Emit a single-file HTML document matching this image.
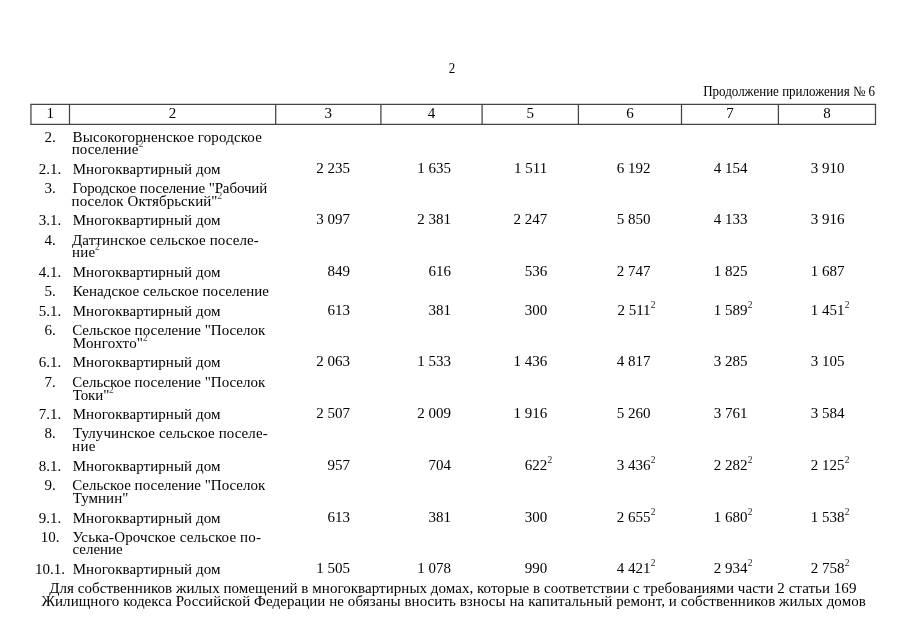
<!DOCTYPE html>
<html lang="ru"><head><meta charset="utf-8"><title>Приложение № 6</title>
<style>
html,body{margin:0;padding:0;background:#fff;}
body{width:905px;height:640px;position:relative;overflow:hidden;font-family:"Liberation Serif",serif;color:#000;}
#w{position:absolute;left:0;top:0;width:905px;height:640px;will-change:transform;font-size:15px;overflow:hidden;}
.g{position:absolute;left:0;top:0;}
.t{position:absolute;white-space:nowrap;line-height:20px;height:20px;}
.s{font-size:9.5px;color:#444;}
.n{font-size:9.5px;color:#222;}
</style></head><body><div id="w">
<svg class="g" width="905" height="640" viewBox="0 0 905 640"><g stroke="#444" stroke-width="1.25" fill="none">
<path d="M30.32 104.3H876.12M30.32 124.3H876.12"/>
<path d="M30.95 104.3V124.3M69.50 104.3V124.3M275.70 104.3V124.3M380.90 104.3V124.3M482.10 104.3V124.3M578.40 104.3V124.3M681.50 104.3V124.3M778.40 104.3V124.3M875.50 104.3V124.3"/>
</g></svg>
<div class="t" style="top:58px;font-size:14.3px;left:432.30px;width:40px;text-align:center;transform:scaleX(0.9091);transform-origin:50% 50%;">2</div>
<div class="t" style="top:81px;font-size:14.3px;right:29.70px;transform:scaleX(0.9091);transform-origin:100% 50%;">Продолжение приложения № 6</div>
<div class="t" style="top:103px;left:30.23px;width:40px;text-align:center;">1</div>
<div class="t" style="top:103px;left:152.60px;width:40px;text-align:center;">2</div>
<div class="t" style="top:103px;left:308.30px;width:40px;text-align:center;">3</div>
<div class="t" style="top:103px;left:411.50px;width:40px;text-align:center;">4</div>
<div class="t" style="top:103px;left:510.25px;width:40px;text-align:center;">5</div>
<div class="t" style="top:103px;left:609.95px;width:40px;text-align:center;">6</div>
<div class="t" style="top:103px;left:709.95px;width:40px;text-align:center;">7</div>
<div class="t" style="top:103px;left:806.95px;width:40px;text-align:center;">8</div>
<div class="t" style="top:127px;left:20.00px;width:60px;text-align:center;">2.</div>
<div class="t" style="top:127px;left:72.60px;letter-spacing:0.128px;">Высокогорненское городское</div>
<div class="t" style="top:139px;left:71.70px;letter-spacing:0.05px;">поселение</div>
<div class="t s" style="left:138.70px;top:134px;">2</div>
<div class="t" style="top:159px;left:20.00px;width:60px;text-align:center;">2.1.</div>
<div class="t" style="top:159px;left:72.70px;letter-spacing:0.067px;">Многоквартирный дом</div>
<div class="t" style="top:158px;right:555.10px;">2 235</div>
<div class="t" style="top:158px;right:454.10px;">1 635</div>
<div class="t" style="top:158px;right:357.70px;">1 511</div>
<div class="t" style="top:158px;right:254.40px;">6 192</div>
<div class="t" style="top:158px;right:157.40px;">4 154</div>
<div class="t" style="top:158px;right:60.40px;">3 910</div>
<div class="t" style="top:178px;left:20.00px;width:60px;text-align:center;">3.</div>
<div class="t" style="top:178px;left:72.60px;letter-spacing:-0.115px;">Городское поселение "Рабочий</div>
<div class="t" style="top:191px;left:71.60px;letter-spacing:0.063px;">поселок Октябрьский"</div>
<div class="t s" style="left:217.40px;top:186px;">2</div>
<div class="t" style="top:210px;left:20.00px;width:60px;text-align:center;">3.1.</div>
<div class="t" style="top:210px;left:72.70px;letter-spacing:0.067px;">Многоквартирный дом</div>
<div class="t" style="top:209px;right:555.10px;">3 097</div>
<div class="t" style="top:209px;right:454.10px;">2 381</div>
<div class="t" style="top:209px;right:357.70px;">2 247</div>
<div class="t" style="top:209px;right:254.40px;">5 850</div>
<div class="t" style="top:209px;right:157.40px;">4 133</div>
<div class="t" style="top:209px;right:60.40px;">3 916</div>
<div class="t" style="top:230px;left:20.00px;width:60px;text-align:center;">4.</div>
<div class="t" style="top:230px;left:72.00px;letter-spacing:0.081px;">Даттинское сельское поселе-</div>
<div class="t" style="top:242px;left:72.00px;letter-spacing:0.2px;">ние</div>
<div class="t s" style="left:95.00px;top:237px;">2</div>
<div class="t" style="top:262px;left:20.00px;width:60px;text-align:center;">4.1.</div>
<div class="t" style="top:262px;left:72.70px;letter-spacing:0.067px;">Многоквартирный дом</div>
<div class="t" style="top:261px;right:555.10px;">849</div>
<div class="t" style="top:261px;right:454.10px;">616</div>
<div class="t" style="top:261px;right:357.70px;">536</div>
<div class="t" style="top:261px;right:254.40px;">2 747</div>
<div class="t" style="top:261px;right:157.40px;">1 825</div>
<div class="t" style="top:261px;right:60.40px;">1 687</div>
<div class="t" style="top:281px;left:20.00px;width:60px;text-align:center;">5.</div>
<div class="t" style="top:281px;left:72.80px;letter-spacing:0.044px;">Кенадское сельское поселение</div>
<div class="t" style="top:301px;left:20.00px;width:60px;text-align:center;">5.1.</div>
<div class="t" style="top:301px;left:72.70px;letter-spacing:0.067px;">Многоквартирный дом</div>
<div class="t" style="top:300px;right:555.10px;">613</div>
<div class="t" style="top:300px;right:454.10px;">381</div>
<div class="t" style="top:300px;right:357.70px;">300</div>
<div class="t" style="top:300px;right:254.40px;">2 511</div>
<div class="t n" style="left:650.80px;top:295px;">2</div>
<div class="t" style="top:300px;right:157.40px;">1 589</div>
<div class="t n" style="left:747.80px;top:295px;">2</div>
<div class="t" style="top:300px;right:60.40px;">1 451</div>
<div class="t n" style="left:844.80px;top:295px;">2</div>
<div class="t" style="top:320px;left:20.00px;width:60px;text-align:center;">6.</div>
<div class="t" style="top:320px;left:72.15px;letter-spacing:0.004px;">Сельское поселение "Поселок</div>
<div class="t" style="top:333px;left:72.70px;letter-spacing:0.225px;">Монгохто"</div>
<div class="t s" style="left:143.10px;top:328px;">2</div>
<div class="t" style="top:352px;left:20.00px;width:60px;text-align:center;">6.1.</div>
<div class="t" style="top:352px;left:72.70px;letter-spacing:0.067px;">Многоквартирный дом</div>
<div class="t" style="top:351px;right:555.10px;">2 063</div>
<div class="t" style="top:351px;right:454.10px;">1 533</div>
<div class="t" style="top:351px;right:357.70px;">1 436</div>
<div class="t" style="top:351px;right:254.40px;">4 817</div>
<div class="t" style="top:351px;right:157.40px;">3 285</div>
<div class="t" style="top:351px;right:60.40px;">3 105</div>
<div class="t" style="top:372px;left:20.00px;width:60px;text-align:center;">7.</div>
<div class="t" style="top:372px;left:72.15px;letter-spacing:0.004px;">Сельское поселение "Поселок</div>
<div class="t" style="top:385px;left:72.70px;letter-spacing:-0.05px;">Токи"</div>
<div class="t s" style="left:109.10px;top:380px;">2</div>
<div class="t" style="top:404px;left:20.00px;width:60px;text-align:center;">7.1.</div>
<div class="t" style="top:404px;left:72.70px;letter-spacing:0.067px;">Многоквартирный дом</div>
<div class="t" style="top:403px;right:555.10px;">2 507</div>
<div class="t" style="top:403px;right:454.10px;">2 009</div>
<div class="t" style="top:403px;right:357.70px;">1 916</div>
<div class="t" style="top:403px;right:254.40px;">5 260</div>
<div class="t" style="top:403px;right:157.40px;">3 761</div>
<div class="t" style="top:403px;right:60.40px;">3 584</div>
<div class="t" style="top:423px;left:20.00px;width:60px;text-align:center;">8.</div>
<div class="t" style="top:423px;left:72.90px;letter-spacing:0.074px;">Тулучинское сельское поселе-</div>
<div class="t" style="top:436px;left:72.00px;letter-spacing:0.375px;">ние</div>
<div class="t" style="top:456px;left:20.00px;width:60px;text-align:center;">8.1.</div>
<div class="t" style="top:456px;left:72.70px;letter-spacing:0.067px;">Многоквартирный дом</div>
<div class="t" style="top:455px;right:555.10px;">957</div>
<div class="t" style="top:455px;right:454.10px;">704</div>
<div class="t" style="top:455px;right:357.70px;">622</div>
<div class="t n" style="left:547.50px;top:450px;">2</div>
<div class="t" style="top:455px;right:254.40px;">3 436</div>
<div class="t n" style="left:650.80px;top:450px;">2</div>
<div class="t" style="top:455px;right:157.40px;">2 282</div>
<div class="t n" style="left:747.80px;top:450px;">2</div>
<div class="t" style="top:455px;right:60.40px;">2 125</div>
<div class="t n" style="left:844.80px;top:450px;">2</div>
<div class="t" style="top:475px;left:20.00px;width:60px;text-align:center;">9.</div>
<div class="t" style="top:475px;left:72.15px;letter-spacing:0.004px;">Сельское поселение "Поселок</div>
<div class="t" style="top:488px;left:72.70px;letter-spacing:0.05px;">Тумнин"</div>
<div class="t" style="top:508px;left:20.00px;width:60px;text-align:center;">9.1.</div>
<div class="t" style="top:508px;left:72.70px;letter-spacing:0.067px;">Многоквартирный дом</div>
<div class="t" style="top:507px;right:555.10px;">613</div>
<div class="t" style="top:507px;right:454.10px;">381</div>
<div class="t" style="top:507px;right:357.70px;">300</div>
<div class="t" style="top:507px;right:254.40px;">2 655</div>
<div class="t n" style="left:650.80px;top:502px;">2</div>
<div class="t" style="top:507px;right:157.40px;">1 680</div>
<div class="t n" style="left:747.80px;top:502px;">2</div>
<div class="t" style="top:507px;right:60.40px;">1 538</div>
<div class="t n" style="left:844.80px;top:502px;">2</div>
<div class="t" style="top:527px;left:20.00px;width:60px;text-align:center;">10.</div>
<div class="t" style="top:527px;left:72.40px;letter-spacing:0.138px;">Уська-Орочское сельское по-</div>
<div class="t" style="top:539px;left:72.50px;letter-spacing:-0.033px;">селение</div>
<div class="t" style="top:559px;left:20.00px;width:60px;text-align:center;">10.1.</div>
<div class="t" style="top:559px;left:72.70px;letter-spacing:0.067px;">Многоквартирный дом</div>
<div class="t" style="top:558px;right:555.10px;">1 505</div>
<div class="t" style="top:558px;right:454.10px;">1 078</div>
<div class="t" style="top:558px;right:357.70px;">990</div>
<div class="t" style="top:558px;right:254.40px;">4 421</div>
<div class="t n" style="left:650.80px;top:553px;">2</div>
<div class="t" style="top:558px;right:157.40px;">2 934</div>
<div class="t n" style="left:747.80px;top:553px;">2</div>
<div class="t" style="top:558px;right:60.40px;">2 758</div>
<div class="t n" style="left:844.80px;top:553px;">2</div>
<div class="t" style="top:578px;left:49.30px;letter-spacing:0.043px;">Для собственников жилых помещений в многоквартирных домах, которые в соответствии с требованиями части 2 статьи 169</div>
<div class="t" style="top:591px;left:41.50px;letter-spacing:0.06px;">Жилищного кодекса Российской Федерации не обязаны вносить взносы на капитальный ремонт, и собственников жилых домов</div>
</div></body></html>
